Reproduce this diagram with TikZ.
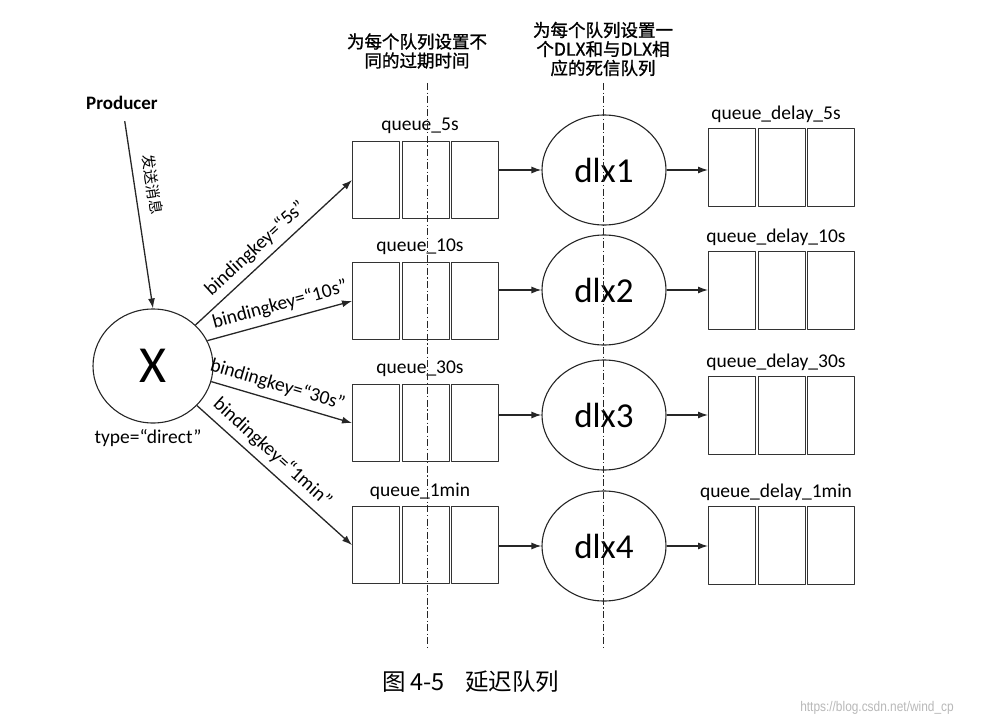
\documentclass[tikz,border=0pt]{standalone}
\usepackage{fontspec}
\setmainfont{Carlito}
\newfontfamily\cjk{Noto Sans CJK SC}
\newfontfamily\cjkbold[FakeBold=1.2]{Noto Sans CJK SC}
\newfontfamily\wmfont[FakeStretch=0.85]{Liberation Sans}
\usetikzlibrary{arrows.meta,shapes.geometric,positioning}

\begin{document}
\begin{tikzpicture}[
            x=1pt, y=-1pt,
            line join=round,
            font=\fontsize{19.5}{22}\selectfont,
            dl arrow/.style ={draw=black!85, line width=1.3pt, -{Latex[length=10pt,width=7pt]}},
            dl cell/.style  ={draw=black!80, line width=1.1pt, minimum width=47pt, minimum height=77pt, inner sep=0pt, anchor=north west},
            dl ecell/.style ={dl cell, minimum height=78pt},
            dl ex/.style    ={ellipse, draw=black!85, line width=1.1pt, minimum width=120pt, minimum height=114pt, inner sep=0pt, font=\fontsize{52}{56}\selectfont},
            dl dlx/.style   ={ellipse, draw=black!85, line width=1.1pt, minimum width=124pt, minimum height=110pt, inner sep=0pt, font=\fontsize{35}{40}\selectfont},
            dl sep/.style   ={draw=black!85, line width=1pt, dash pattern=on 7pt off 2.5pt on 1.2pt off 2.5pt},
            dl head/.style  ={align=center, font=\fontsize{17.5}{19}\selectfont\cjkbold},
            dl key/.style   ={sloped, above=5pt, inner sep=1pt}
        ]
        \useasboundingbox (0,0) rectangle (988,725);
        %% --- headers and the two cut lines ------------------------------------
        \node[dl head] (h1) at (417,51) {为每个队列设置不\\同的过期时间};
        \node[dl head] (h2) at (603,49) {为每个队列设置一\\个DLX和与DLX相\\应的死信队列};
        \coordinate (s1t) at (427,83);
        \coordinate (s1b) at (427,648);
        \coordinate (s2t) at (603,83);
        \coordinate (s2b) at (603,648);
        %% --- producer and exchange X -----------------------------------------
        \node[font=\fontsize{19}{22}\selectfont\bfseries] (prod) at (122,103) {Producer};
        \node[dl ex] (X) at (153,366) {X};
        \node (type) at (148,438) {type=“direct”};
        \draw[dl arrow, shorten <=8pt] (prod) -- node[sloped, above=7pt, pos=0.38, font=\fontsize{15}{16}\selectfont\cjk] {发送消息} (X.north);
        %% --- queues, dlx exchanges and delay queues --------------------------
        \foreach \i/\qy/\dy/\ey/\t in {1/141/170/128/5s, 2/262/290/251/10s, 3/384/415/376/30s, 4/506/546/506/1min} {
                \node[dl cell] (qa\i) at (352,\qy) {};
                \node[dl cell] (qb\i) at (401.5,\qy) {};
                \node[dl cell] (qc\i) at (451,\qy) {};
                \node (ql\i) at (420,\qy-15) {queue\_\t};
                \node[dl dlx] (d\i) at (604,\dy) {dlx\i};
                \node[dl ecell] (ea\i) at (708,\ey) {};
                \node[dl ecell] (eb\i) at (757.5,\ey) {};
                \node[dl ecell] (ec\i) at (807,\ey) {};
                \node (el\i) at (776,\ey-13.5) {queue\_delay\_\t};
                \draw[dl arrow] (qc\i.east |- d\i) -- (d\i);
                \draw[dl arrow] (d\i) -- (d\i -| ea\i.west);
            }
        \foreach \i/\a/\p/\t in {1/44/0.45/5s, 2/25/0.53/10s, 3/-15/0.44/30s, 4/-42/0.42/1min} {
                \draw[dl arrow] (X.\a) -- node[dl key, pos=\p] {bindingkey=“\t”} (qa\i.west);
            }
        \draw[dl sep] (s1t) -- (s1b);
        \draw[dl sep] (s2t) -- (s2b);
        %% --- caption ---------------------------------------------------------
        \node[font=\fontsize{23.5}{26}\selectfont\cjk] (cap) at (471,682) {图\,4-5\hspace{0.9em}延迟队列};
        \node[font=\fontsize{14}{16}\selectfont\wmfont, text=black!28] (wm) at (877,708) {https://blog.csdn.net/wind\_cp};
    \end{tikzpicture}
\end{document}
